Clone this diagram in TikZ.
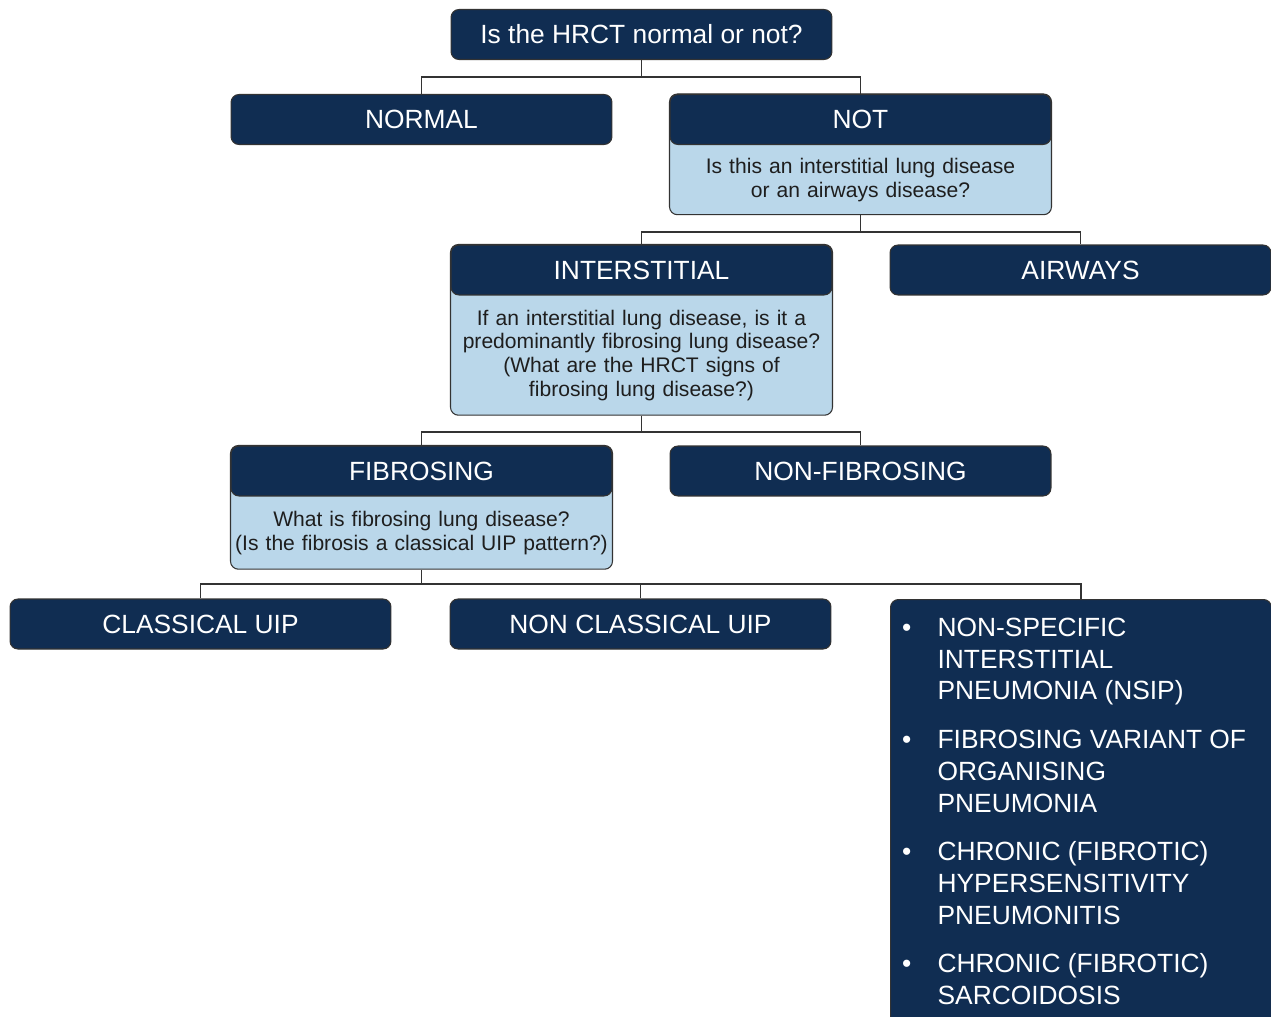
\documentclass[tikz,border=0pt]{standalone}
\usepackage{fontspec}
\setmainfont{Liberation Sans}
\usetikzlibrary{positioning,fit,backgrounds}

\definecolor{navy}{HTML}{102D52}
\definecolor{paleblue}{HTML}{BAD7EA}
\definecolor{edgegray}{HTML}{333333}
\definecolor{ink}{HTML}{1E1E1E}

\tikzset{
  hdr/.style={draw=edgegray, line width=0.6pt, fill=navy, text=white,
    rounded corners=4.5pt, minimum width=7.62cm, minimum height=1cm,
    inner sep=0pt, font=\fontsize{15}{18}\selectfont},
  qtext/.style={text width=7.62cm, align=center, inner sep=0pt,
    text=ink, font=\fontsize{12}{13.5}\selectfont},
  qframe/.style={draw=edgegray, line width=0.6pt, fill=paleblue,
    rounded corners=4.5pt, inner sep=0pt},
  link/.style={draw=edgegray, line width=1.1pt},
}

\begin{document}
\begin{tikzpicture}[x=0.02cm, y=-0.02cm]
      \useasboundingbox (0,0) rectangle (1271,1017);
%      boxes, first row
      \node [hdr] (q0) at (641.5,34.5) {Is the HRCT normal or not?};
      \node [hdr] (normal) at (421.5,119.5) {NORMAL};
      \node [hdr] (not) at (860.5,119.5) {NOT};
      \node [qtext, minimum height=1.38cm, below=0pt of not] (notq)
        {Is this an interstitial lung disease\\ or an airways disease?};
%      second row
      \node [hdr] (inter) at (641.5,270) {INTERSTITIAL};
      \node [qtext, minimum height=2.38cm, below=0pt of inter] (interq)
        {If an interstitial lung disease, is it a\\ predominantly fibrosing lung disease?\\
         (What are the HRCT signs of\\ fibrosing lung disease?)};
      \node [hdr] (airways) at (1080.5,270) {AIRWAYS};
%      third row
      \node [hdr] (fib) at (421.5,471) {FIBROSING};
      \node [qtext, minimum height=1.44cm, below=0pt of fib] (fibq)
        {What is fibrosing lung disease?\\ (Is the fibrosis a classical UIP pattern?)};
      \node [hdr] (nonfib) at (860.5,471) {NON-FIBROSING};
%      last row
      \node [hdr] (cuip) at (200.5,624) {CLASSICAL UIP};
      \node [hdr] (ncuip) at (640.5,624) {NON CLASSICAL UIP};
      \node [hdr, anchor=north west, align=left,
             font=\fontsize{15}{18.2}\selectfont] (others) at (890,599)
        {\parbox[c][8.6cm][t]{7.62cm}{\raggedright\vspace*{8.3pt}%
          \begin{list}{\textbullet}{\setlength\leftmargin{26.8pt}%
            \setlength\labelsep{15pt}\setlength\labelwidth{11.8pt}%
            \setlength\itemsep{9.2pt}\setlength\parsep{0pt}\setlength\topsep{0pt}}
          \item NON-SPECIFIC\\ INTERSTITIAL\\ PNEUMONIA (NSIP)
          \item FIBROSING VARIANT OF\\ ORGANISING\\ PNEUMONIA
          \item CHRONIC (FIBROTIC)\\ HYPERSENSITIVITY\\ PNEUMONITIS
          \item CHRONIC (FIBROTIC)\\ SARCOIDOSIS
          \end{list}}};
%      pale frames behind header and question
      \begin{scope}[on background layer]
        \node [qframe, fit=(not)(notq)] (notbox) {};
        \node [qframe, fit=(inter)(interq)] (interbox) {};
        \node [qframe, fit=(fib)(fibq)] (fibbox) {};
      \end{scope}
%      connectors
      \coordinate (j1) at (641.5,77);
      \coordinate (j2) at (860.5,232);
      \coordinate (j3) at (641.5,432);
      \coordinate (j4) at (421.5,584);
      \draw [link] (q0.south) -- (j1);
      \draw [link] (normal.north) |- (j1) -| (not.north);
      \draw [link] (notbox.south) -- (j2);
      \draw [link] (inter.north) |- (j2) -| (airways.north);
      \draw [link] (interbox.south) -- (j3);
      \draw [link] (fib.north) |- (j3) -| (nonfib.north);
      \draw [link] (fibbox.south) -- (j4);
      \draw [link] (cuip.north) |- (j4) -| (others.north);
      \draw [link] (ncuip.north) -- (ncuip.north |- j4);
    \end{tikzpicture}
\end{document}
